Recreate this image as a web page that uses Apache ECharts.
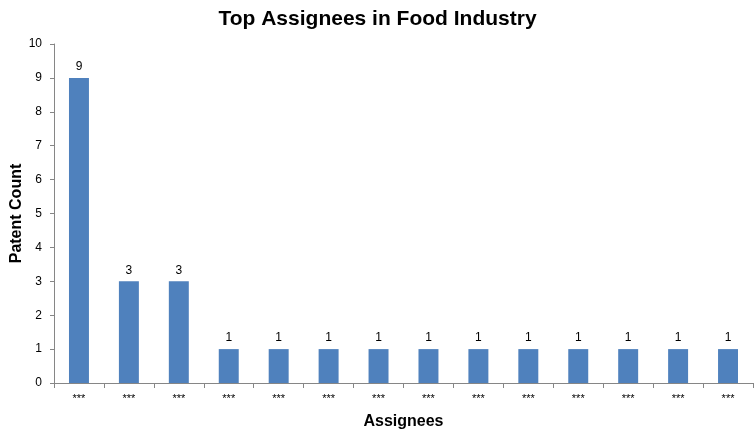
<!DOCTYPE html>
<html><head><meta charset="utf-8">
<script src="https://cdn.jsdelivr.net/npm/echarts@6/dist/echarts.min.js"></script>
<style>html,body{margin:0;padding:0;background:#fff}#c{width:755px;height:438px}</style>
</head><body><div id="c"></div>
<script>
const categories = ["***","***","***","***","***","***","***","***","***","***","***","***","***","***"];
const patentCounts = [9,3,3,1,1,1,1,1,1,1,1,1,1,1];
const yTicks = [0,1,2,3,4,5,6,7,8,9,10];

const chart = echarts.init(document.getElementById('c'), null, {renderer:'canvas'});
chart.setOption({
  animation:false,
  title:{text:'Top Assignees in Food Industry',left:'center',top:4,
    textStyle:{fontFamily:'Liberation Sans, Arial',fontSize:21,fontWeight:'bold',color:'#000'}},
  grid:{left:54,right:2,top:44,bottom:55,containLabel:false,outerBoundsMode:'none'},
  xAxis:{type:'category',data:categories,name:'Assignees',nameLocation:'middle',nameGap:31,
    nameMoveOverlap:false,
    nameTextStyle:{fontFamily:'Liberation Sans, Arial',fontSize:16,fontWeight:'bold',color:'#000'},
    axisLine:{lineStyle:{color:'#868686',width:1}},
    axisTick:{show:true,alignWithLabel:false,length:5,lineStyle:{color:'#868686'}},
    axisLabel:{fontFamily:'Liberation Sans, Arial',fontSize:11,color:'#000',margin:10}},
  yAxis:{type:'value',min:yTicks[0],max:yTicks[yTicks.length-1],interval:1,
    name:'Patent Count',nameLocation:'middle',nameGap:29,nameRotate:90,nameMoveOverlap:false,
    nameTextStyle:{fontFamily:'Liberation Sans, Arial',fontSize:16,fontWeight:'bold',color:'#000'},
    axisLine:{show:true,lineStyle:{color:'#868686',width:1}},
    axisTick:{show:true,inside:false,length:4,lineStyle:{color:'#868686'}},
    splitLine:{show:false},
    axisLabel:{fontFamily:'Liberation Sans, Arial',fontSize:12,color:'#000',margin:12}},
  series:[{type:'bar',data:patentCounts,barWidth:'40%',
    itemStyle:{color:'#4F81BD'},
    label:{show:true,position:'top',distance:5,fontFamily:'Liberation Sans, Arial',fontSize:12,color:'#000'}}]
});
</script></body></html>
